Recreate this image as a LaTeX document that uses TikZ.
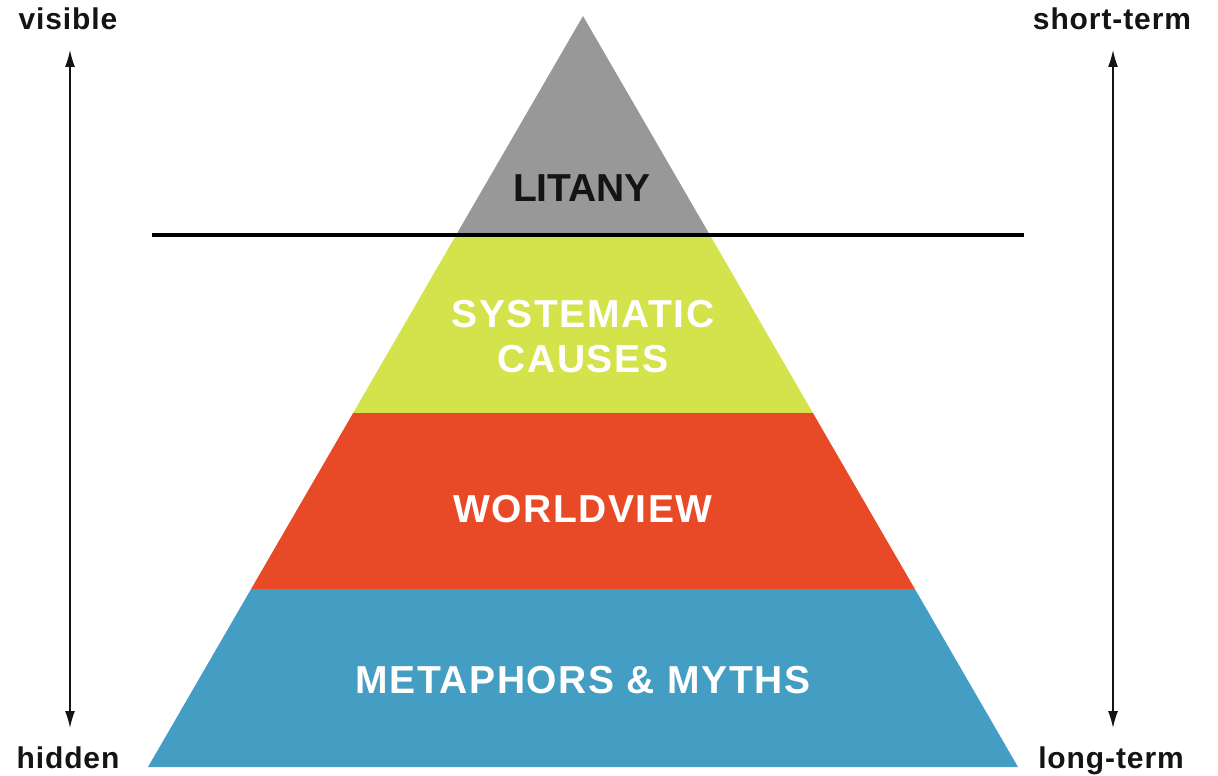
\documentclass[tikz,border=0pt]{standalone}
\usepackage{fontspec}
\setmainfont{Liberation Sans}
\newfontfamily\sidefont[LetterSpace=3]{Liberation Sans}
\newfontfamily\layerfont[LetterSpace=4]{Liberation Sans}
\usetikzlibrary{arrows.meta}
\definecolor{pgray}{RGB}{152,152,152}
\definecolor{pgreen}{RGB}{212,227,75}
\definecolor{pred}{RGB}{232,74,39}
\definecolor{pblue}{RGB}{68,158,195}
\definecolor{ink}{RGB}{20,20,20}
\begin{document}
\begin{tikzpicture}[x=1pt,y=-1pt,
  side/.style={font=\sidefont\bfseries\fontsize{30}{30}\selectfont, text=ink, anchor=base, inner sep=0pt},
  layertext/.style={font=\layerfont\bfseries\fontsize{39}{39}\selectfont, text=white, anchor=base, inner sep=0pt},
  axis/.style={line width=1.4pt, draw=ink, {Latex[length=17pt,width=10pt]}-{Latex[length=17pt,width=10pt]}},
  divider/.style={line width=3.5pt, draw=black}]
\useasboundingbox (0,0) rectangle (1218,776);
% layers
\fill[pgray] (583,16) -- (456.1,235) -- (709.9,235) -- cycle;
\fill[pgreen] (456.1,235) -- (353.1,413) -- (812.9,413) -- (709.9,235) -- cycle;
\fill[pred] (353.1,413) -- (251.1,589) -- (914.9,589) -- (812.9,413) -- cycle;
\fill[pblue] (251.1,589) -- (148,767) -- (1018,767) -- (914.9,589) -- cycle;
% divider
\coordinate (dl) at (152,235);
\coordinate (dr) at (1024,235);
\draw[divider] (dl) -- (dr);
% layer labels
\node[layertext, text=ink, font=\fontsize{39}{39}\selectfont\bfseries] (litany) at (582,201) {LITANY};
\node[layertext] (sys) at (583,327) {SYSTEMATIC};
\node[layertext] (causes) at (583,372) {CAUSES};
\node[layertext] (world) at (583,522) {WORLDVIEW};
\node[layertext] (myths) at (583,693) {METAPHORS \& MYTHS};
% side labels
\node[side] (visible) at (68,30) {visible};
\node[side] (hidden) at (68,768) {hidden};
\node[side] (short) at (1112,30) {short-term};
\node[side] (long) at (1111,768) {long-term};
% axes
\coordinate (lt) at (70,50);
\coordinate (lb) at (70,728);
\coordinate (rt) at (1113,50);
\coordinate (rb) at (1113,728);
\draw[axis] (lt) -- (lb);
\draw[axis] (rt) -- (rb);
\end{tikzpicture}
\end{document}
